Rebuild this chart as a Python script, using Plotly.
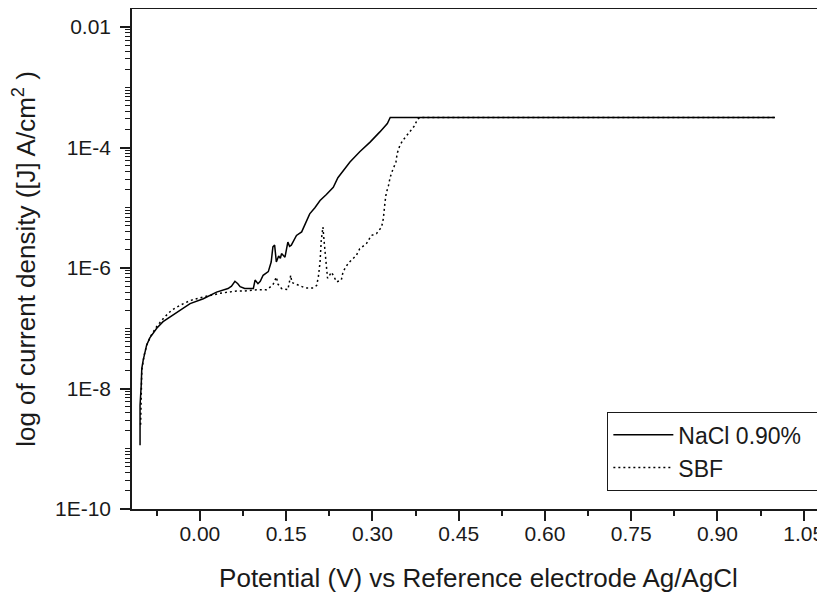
import numpy as np
import plotly.graph_objects as go

# ---- data (potential in V, log10 of current density in A/cm^2) ----
v_nacl = [-0.104, -0.104, -0.102, -0.101, -0.0985, -0.0956, -0.0926, -0.087, -0.081, -0.075,
          -0.064, -0.052, -0.035, -0.017, 0.006, 0.029, 0.049, 0.055, 0.061, 0.066,
          0.070, 0.078, 0.093, 0.096, 0.101, 0.105, 0.110, 0.119, 0.124, 0.127,
          0.130, 0.133, 0.137, 0.140, 0.142, 0.148, 0.153, 0.156, 0.159, 0.168,
          0.177, 0.185, 0.191, 0.200, 0.209, 0.220, 0.232, 0.240, 0.249, 0.261,
          0.278, 0.296, 0.313, 0.326, 0.331, 1.000]
logj_nacl = [-8.94, -8.28, -7.95, -7.67, -7.53, -7.41, -7.28, -7.16, -7.08, -7.00,
             -6.89, -6.81, -6.70, -6.59, -6.51, -6.40, -6.34, -6.30, -6.22, -6.26,
             -6.31, -6.34, -6.34, -6.20, -6.26, -6.22, -6.12, -6.06, -5.90, -5.65,
             -5.62, -5.90, -5.80, -5.84, -5.76, -5.82, -5.57, -5.64, -5.62, -5.46,
             -5.40, -5.24, -5.10, -5.00, -4.88, -4.78, -4.66, -4.50, -4.38, -4.24,
             -4.07, -3.91, -3.74, -3.60, -3.50, -3.50]

v_sbf = [-0.103, -0.101, -0.097, -0.092, -0.085, -0.075, -0.062, -0.049, -0.035, -0.017,
         0.006, 0.035, 0.064, 0.078, 0.101, 0.116, 0.127, 0.133, 0.136, 0.142,
         0.153, 0.158, 0.160, 0.168, 0.183, 0.197, 0.203, 0.206, 0.209, 0.211,
         0.214, 0.216, 0.218, 0.220, 0.222, 0.229, 0.238, 0.246, 0.249, 0.258,
         0.272, 0.278, 0.290, 0.298, 0.307, 0.316, 0.319, 0.322, 0.324, 0.328,
         0.331, 0.335, 0.341, 0.343, 0.348, 0.353, 0.365, 0.374, 0.378, 0.383, 1.000]
logj_sbf = [-8.60, -7.70, -7.45, -7.27, -7.12, -6.97, -6.82, -6.70, -6.62, -6.54,
            -6.48, -6.42, -6.38, -6.38, -6.36, -6.36, -6.28, -6.15, -6.27, -6.34,
            -6.36, -6.12, -6.24, -6.27, -6.33, -6.33, -6.29, -6.15, -5.90, -5.55,
            -5.32, -5.55, -5.80, -6.00, -6.17, -6.07, -6.23, -6.20, -6.06, -5.92,
            -5.79, -5.68, -5.59, -5.46, -5.43, -5.32, -5.18, -4.90, -4.76, -4.63,
            -4.49, -4.38, -4.24, -4.10, -3.96, -3.88, -3.74, -3.63, -3.53, -3.50, -3.50]

series_names = ["NaCl 0.90%", "SBF"]
y_tickvals = [1e-10, 1e-8, 1e-6, 1e-4, 1e-2]
y_ticktext = ["1E-10", "1E-8", "1E-6", "1E-4", "0.01"]

j_nacl = [10 ** v for v in logj_nacl]
j_sbf = [10 ** v for v in logj_sbf]

# minor ticks: 2..9 in each decade, plus the unlabeled odd decades
y_minor = []
for e in range(-10, -1):
    for m in range(1, 10):
        val = m * 10.0 ** e
        if m == 1 and val in y_tickvals:
            continue
        y_minor.append(val)

FONT = "Liberation Sans, Arial, sans-serif"
INK = "#1a1a1a"
PAD = "\u00a0\u00a0"  # a little right padding inside the legend box

fig = go.Figure()
fig.add_trace(go.Scatter(x=v_nacl, y=j_nacl, mode="lines", name=series_names[0] + PAD,
                         line=dict(color="black", width=1.5)))
fig.add_trace(go.Scatter(x=v_sbf, y=j_sbf, mode="lines", name=series_names[1],
                         line=dict(color="black", width=1.5, dash="2px,3px")))

# the page body has an 8px margin, so the figure is sized to fit inside the window
fig.update_layout(
    width=817, height=586,
    margin=dict(l=124, r=0, t=1, b=85),
    paper_bgcolor="white", plot_bgcolor="white",
    font=dict(family=FONT, color=INK),
    showlegend=True,
    legend=dict(x=0.993, y=0.194, xanchor="right", yanchor="top",
                bordercolor=INK, borderwidth=1.2, bgcolor="white",
                font=dict(family=FONT, size=23, color=INK),
                tracegroupgap=0, itemwidth=60),
)

fig.update_xaxes(
    range=[-0.118, 1.087], automargin=False,
    tickmode="linear", tick0=0, dtick=0.15, tickformat=".2f",
    ticks="outside", ticklen=10, tickwidth=1.5, tickcolor=INK,
    minor=dict(dtick=0.075, tick0=0, ticks="outside", ticklen=5, tickwidth=1.5, tickcolor=INK),
    showline=True, linecolor=INK, linewidth=1.5, mirror=True,
    showgrid=False, zeroline=False,
    tickfont=dict(family=FONT, size=21, color=INK), ticklabelstandoff=-5,
    title=dict(text="Potential (V) vs Reference electrode Ag/AgCl",
               font=dict(family=FONT, size=26, color=INK), standoff=25),
)

fig.update_yaxes(
    type="log", range=[-10, -1.7], automargin=False,
    tickmode="array", tickvals=y_tickvals, ticktext=y_ticktext,
    ticks="outside", ticklen=10, tickwidth=1.5, tickcolor=INK,
    minor=dict(tickmode="array", tickvals=y_minor, ticks="outside", ticklen=5,
               tickwidth=1.2, tickcolor=INK),
    showline=True, linecolor=INK, linewidth=1.5, mirror=False,
    showgrid=False, zeroline=False,
    tickfont=dict(family=FONT, size=21, color=INK), ticklabelstandoff=5,
    title=dict(text="log of current density ([J] A/cm<sup>2</sup> )",
               font=dict(family=FONT, size=26, color=INK), standoff=12),
)

fig.write_html("out.html")
